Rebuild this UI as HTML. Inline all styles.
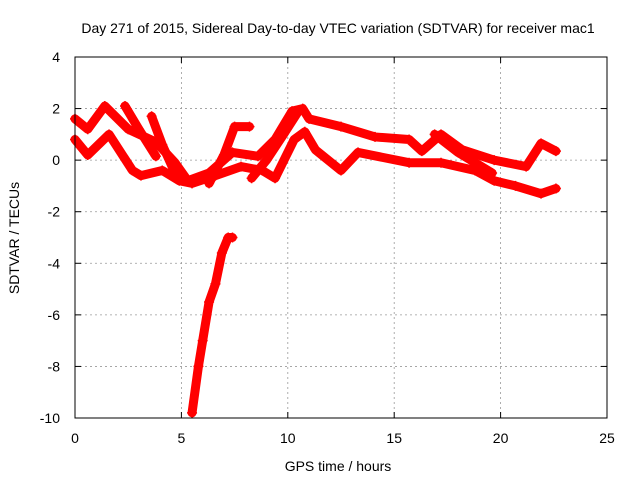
<!DOCTYPE html>
<html><head><meta charset="utf-8"><style>
body{margin:0;background:#fff}
svg{display:block;font-family:"Liberation Sans",sans-serif;font-size:14px}
</style></head><body>
<svg width="640" height="480">
<rect x="0" y="0" width="640" height="480" fill="#fff"/>
<text x="338" y="33" text-anchor="middle">Day 271 of 2015, Sidereal Day-to-day VTEC variation (SDTVAR) for receiver mac1</text>
<g id="grid"></g>
<g id="axes"></g>
<g id="marks"></g>
<rect x="75" y="57" width="532" height="361" fill="none" stroke="#000"/>
<text x="338" y="471" text-anchor="middle">GPS time / hours</text>
<text transform="translate(19,238) rotate(-90)" text-anchor="middle">SDTVAR / TECUs</text>
</svg>
<script>
const xTicks=[0,5,10,15,20,25];
const yTicks=[4,2,0,-2,-4,-6,-8,-10];
const track1T=[0,0.6,1.4,2.5,3.8,4.7,5.3,6.3,7.4,8.6,9.4,10.2,10.7,11,12.5,14.1,15.7,16.3,17.2,18.2,19.7,21.2,21.9,22.6];
const track1V=[1.6,1.2,2.1,1.2,0.7,-0.1,-0.8,-0.5,0.3,0.15,0.8,1.9,2.0,1.6,1.3,0.9,0.8,0.35,1.0,0.4,0.0,-0.25,0.65,0.35];
const track2T=[0,0.6,1.6,2.7,3.1,4.1,4.9,5.5,6.6,7.8,8.8,9.4,10.3,10.8,11.3,12.5,13.3,15.7,17.2,18.8,19.7,20.7,21.9,22.6];
const track2V=[0.8,0.2,1.0,-0.4,-0.6,-0.4,-0.8,-0.9,-0.6,-0.25,-0.4,-0.7,0.8,1.1,0.4,-0.4,0.3,-0.1,-0.1,-0.4,-0.8,-1.0,-1.3,-1.1];
const track3T=[2.35,3.0,3.8];
const track3V=[2.1,1.2,0.15];
const track4T=[3.6,4.1,4.7];
const track4V=[1.7,0.6,-0.5];
const track5T=[5.5,5.8,6.0,6.3,6.6,6.9,7.2,7.4];
const track5V=[-9.8,-8,-7,-5.5,-4.8,-3.6,-3.0,-3.0];
const track6T=[6.3,7.0,7.5,8.2];
const track6V=[-0.9,0.2,1.3,1.3];
const track7T=[16.9,18.0,19.6];
const track7V=[1.0,0.3,-0.5];
const track8T=[8.3,9.0,9.8,10.5];
const track8V=[-0.7,0.0,1.0,1.9];
const tracks=[[track1T,track1V],[track2T,track2V],[track3T,track3V],[track4T,track4V],[track5T,track5V],[track6T,track6V],[track7T,track7V],[track8T,track8V]];
const NS="http://www.w3.org/2000/svg";
const xs=t=>75+t*(532/25);
const ys=v=>57+(4-v)*(361/14);
function mk(tag,attrs,parent){const e=document.createElementNS(NS,tag);for(const k in attrs)e.setAttribute(k,attrs[k]);parent.appendChild(e);return e;}
const grid=document.getElementById('grid'),axes=document.getElementById('axes'),marks=document.getElementById('marks');
xTicks.forEach(t=>{const x=xs(t);
 if(t>0&&t<25){const g=mk('line',{x1:x,x2:x,y1:57,y2:418,stroke:'#999','stroke-dasharray':'2,3','stroke-width':0.8},grid);
 }
 const a=mk('line',{x1:x,x2:x,y1:418,y2:412,stroke:'#000'},axes);
 const b=mk('line',{x1:x,x2:x,y1:57,y2:63,stroke:'#000'},axes);
 const l=mk('text',{x:x,y:443,'text-anchor':'middle'},axes);l.textContent=t;});
yTicks.forEach(v=>{const y=ys(v);
 if(v<4&&v>-10){const g=mk('line',{x1:75,x2:607,y1:y,y2:y,stroke:'#999','stroke-dasharray':'2,3','stroke-width':0.8},grid);
 }
 const a=mk('line',{x1:75,x2:81,y1:y,y2:y,stroke:'#000'},axes);
 const b=mk('line',{x1:601,x2:607,y1:y,y2:y,stroke:'#000'},axes);
 const l=mk('text',{x:60,y:y+5,'text-anchor':'end'},axes);l.textContent=v;});
tracks.forEach(([T,V])=>{
 const pts=T.map((t,i)=>xs(t)+','+ys(V[i])).join(' ');
 const pl=mk('polyline',{points:pts,fill:'none',stroke:'#f00','stroke-width':9,'stroke-linejoin':'round','stroke-linecap':'round'},marks);
 
 T.forEach((t,i)=>{const x=xs(t),y=ys(V[i]);
  const p=mk('path',{d:`M${x-5},${y}h10M${x},${y-5}v10`,stroke:'#f00','stroke-width':1.5},marks);
  });
});
</script>
</body></html>
